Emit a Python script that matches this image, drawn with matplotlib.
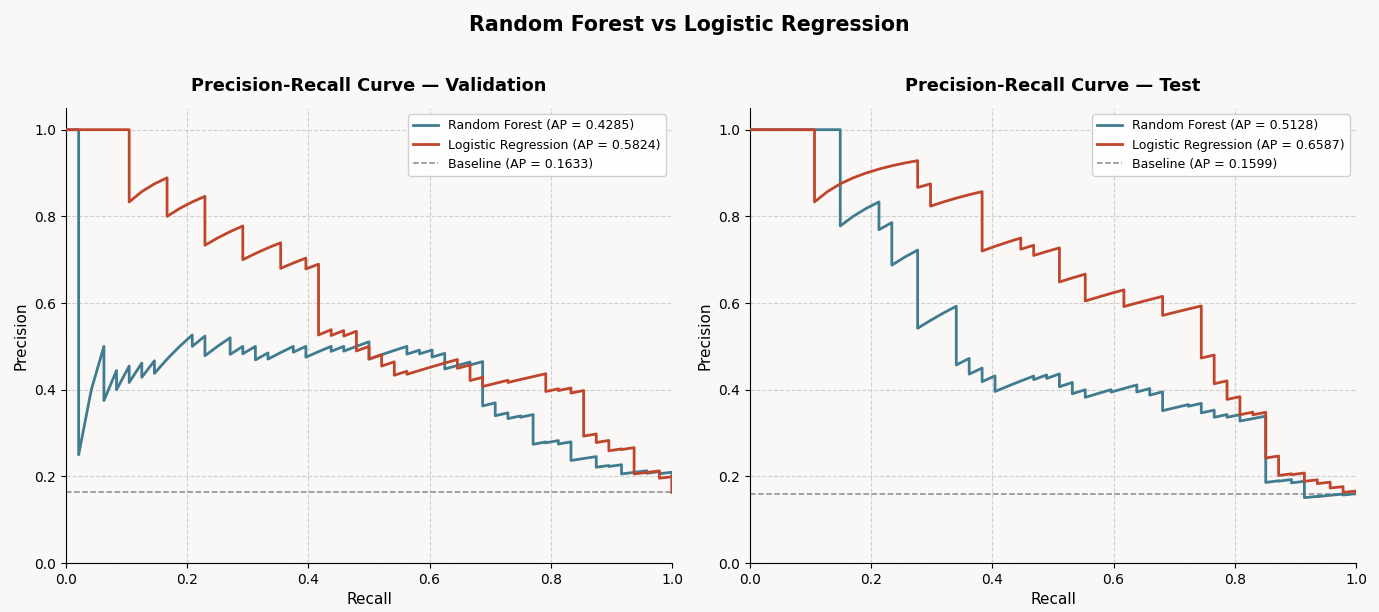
import matplotlib
matplotlib.use("Agg")
import matplotlib.pyplot as plt

# ---------------- data ----------------
val_rf_recall = [0.0, 0.0208, 0.0208, 0.0417, 0.0625, 0.0625, 0.0833, 0.0833, 0.1042, 0.1042,
                 0.125, 0.125, 0.1458, 0.1458, 0.1667, 0.1875, 0.2083, 0.2083, 0.2292, 0.2292,
                 0.25, 0.2708, 0.2708, 0.2917, 0.2917, 0.3125, 0.3125, 0.3333, 0.3333, 0.3542,
                 0.375, 0.375, 0.3958, 0.3958, 0.4167, 0.4375, 0.4375, 0.4583, 0.4583, 0.4792,
                 0.5, 0.5, 0.5208, 0.5417, 0.5625, 0.5625, 0.5833, 0.5833, 0.6042, 0.6042,
                 0.625, 0.625, 0.6458, 0.6667, 0.6667, 0.6875, 0.6875, 0.7083, 0.7083, 0.7292,
                 0.7292, 0.75, 0.75, 0.7708, 0.7708, 0.7917, 0.7917, 0.8125, 0.8125, 0.8333,
                 0.8333, 0.8542, 0.875, 0.875, 0.8958, 0.8958, 0.9167, 0.9167, 0.9375, 0.9583,
                 0.9583, 0.9792, 0.9792, 1.0, 1.0]
val_rf_precision = [1.0, 1.0, 0.25, 0.4, 0.5, 0.375, 0.4444, 0.4, 0.4545, 0.4167,
                    0.4615, 0.4286, 0.4667, 0.4375, 0.4706, 0.5, 0.5263, 0.5, 0.5238, 0.4783,
                    0.5, 0.52, 0.4815, 0.5, 0.4828, 0.5, 0.4688, 0.4848, 0.4706, 0.4857,
                    0.5, 0.4865, 0.5, 0.475, 0.4878, 0.5, 0.4884, 0.5, 0.4889, 0.5,
                    0.5106, 0.4706, 0.4808, 0.4906, 0.5, 0.4821, 0.4912, 0.4828, 0.4915, 0.4754,
                    0.4839, 0.4478, 0.4559, 0.4638, 0.4571, 0.4648, 0.3626, 0.3696, 0.34, 0.3465,
                    0.3333, 0.3396, 0.3364, 0.3426, 0.2741, 0.2794, 0.2774, 0.2826, 0.2746, 0.2797,
                    0.2367, 0.2412, 0.2456, 0.2211, 0.2251, 0.2228, 0.2268, 0.2056, 0.2093, 0.2130,
                    0.2072, 0.2108, 0.2061, 0.2096, 0.1633]

val_lr_recall = [0.0, 0.1042, 0.1042, 0.125, 0.1458, 0.1667, 0.1667, 0.1875, 0.2083, 0.2292,
                 0.2292, 0.25, 0.2708, 0.2917, 0.2917, 0.3125, 0.3333, 0.3542, 0.3542, 0.375,
                 0.3958, 0.3958, 0.4167, 0.4167, 0.4375, 0.4375, 0.4583, 0.4583, 0.4792, 0.4792,
                 0.5, 0.5, 0.5208, 0.5208, 0.5417, 0.5417, 0.5625, 0.5625, 0.5833, 0.6042,
                 0.625, 0.6458, 0.6458, 0.6667, 0.6667, 0.6875, 0.6875, 0.7083, 0.7292, 0.7292,
                 0.75, 0.7708, 0.7917, 0.7917, 0.8125, 0.8125, 0.8333, 0.8333, 0.8542, 0.8542,
                 0.875, 0.875, 0.8958, 0.8958, 0.9167, 0.9167, 0.9375, 0.9375, 0.9583, 0.9792,
                 0.9792, 1.0, 1.0]
val_lr_precision = [1.0, 1.0, 0.8333, 0.8571, 0.875, 0.8889, 0.8, 0.8182, 0.8333, 0.8462,
                    0.7333, 0.75, 0.7647, 0.7778, 0.70, 0.7143, 0.7273, 0.7391, 0.68, 0.6923,
                    0.7037, 0.6786, 0.6897, 0.5263, 0.5385, 0.525, 0.5366, 0.5238, 0.5349, 0.4894,
                    0.5, 0.4706, 0.4808, 0.4545, 0.4643, 0.4333, 0.4426, 0.4355, 0.4444, 0.4531,
                    0.4615, 0.4697, 0.4493, 0.4571, 0.4211, 0.4286, 0.4074, 0.4146, 0.4217, 0.4167,
                    0.4235, 0.4302, 0.4368, 0.3958, 0.4021, 0.3980, 0.4040, 0.3922, 0.3981, 0.2929,
                    0.2979, 0.2781, 0.2829, 0.2590, 0.2635, 0.2619, 0.2663, 0.2055, 0.2091, 0.2127,
                    0.1958, 0.1992, 0.1633]

test_rf_recall = [0.0, 0.1489, 0.1489, 0.1702, 0.1915, 0.2128, 0.2128, 0.2340, 0.2340, 0.2553,
                  0.2766, 0.2766, 0.2979, 0.3191, 0.3404, 0.3404, 0.3617, 0.3617, 0.3830, 0.3830,
                  0.4043, 0.4043, 0.4255, 0.4468, 0.4681, 0.4681, 0.4894, 0.4894, 0.5106, 0.5106,
                  0.5319, 0.5319, 0.5532, 0.5532, 0.5745, 0.5957, 0.5957, 0.6170, 0.6383, 0.6383,
                  0.6596, 0.6596, 0.6809, 0.6809, 0.7021, 0.7234, 0.7234, 0.7447, 0.7447, 0.7660,
                  0.7660, 0.7872, 0.7872, 0.8085, 0.8085, 0.8298, 0.8511, 0.8511, 0.8723, 0.8723,
                  0.8936, 0.8936, 0.9149, 0.9149, 0.9362, 0.9362, 0.9574, 0.9787, 0.9787, 1.0]
test_rf_precision = [1.0, 1.0, 0.7778, 0.8, 0.8182, 0.8333, 0.7692, 0.7857, 0.6875, 0.7059,
                     0.7222, 0.5417, 0.56, 0.5769, 0.5926, 0.4571, 0.4722, 0.4359, 0.45, 0.4186,
                     0.4318, 0.3958, 0.4082, 0.42, 0.4314, 0.4231, 0.4340, 0.4259, 0.4364, 0.4068,
                     0.4167, 0.3906, 0.4, 0.3824, 0.3913, 0.4, 0.3944, 0.4028, 0.4110, 0.3947,
                     0.4026, 0.3875, 0.3951, 0.3516, 0.3587, 0.3656, 0.3617, 0.3684, 0.3465, 0.3529,
                     0.3364, 0.3426, 0.3364, 0.3423, 0.3276, 0.3333, 0.3390, 0.1860, 0.1898, 0.1889,
                     0.1927, 0.1850, 0.1886, 0.1509, 0.1538, 0.1533, 0.1563, 0.1592, 0.1570, 0.1599]

test_lr_recall = [0.0, 0.1064, 0.1064, 0.1277, 0.1489, 0.1702, 0.1915, 0.2128, 0.2340, 0.2553,
                  0.2766, 0.2766, 0.2979, 0.2979, 0.3191, 0.3404, 0.3617, 0.3830, 0.3830, 0.4043,
                  0.4255, 0.4468, 0.4468, 0.4681, 0.4681, 0.4894, 0.5106, 0.5106, 0.5319, 0.5532,
                  0.5532, 0.5745, 0.5957, 0.6170, 0.6170, 0.6383, 0.6596, 0.6809, 0.6809, 0.7021,
                  0.7234, 0.7447, 0.7447, 0.7660, 0.7660, 0.7872, 0.7872, 0.8085, 0.8085, 0.8298,
                  0.8298, 0.8511, 0.8511, 0.8723, 0.8723, 0.8936, 0.8936, 0.9149, 0.9149, 0.9362,
                  0.9362, 0.9574, 0.9574, 0.9787, 0.9787, 1.0, 1.0]
test_lr_precision = [1.0, 1.0, 0.8333, 0.8571, 0.875, 0.8889, 0.9, 0.9091, 0.9167, 0.9231,
                     0.9286, 0.8667, 0.875, 0.8235, 0.8333, 0.8421, 0.85, 0.8571, 0.72, 0.7308,
                     0.7407, 0.75, 0.7241, 0.7333, 0.7097, 0.7188, 0.7273, 0.6486, 0.6579, 0.6667,
                     0.6047, 0.6136, 0.6222, 0.6304, 0.5918, 0.6, 0.6078, 0.6154, 0.5714, 0.5789,
                     0.5862, 0.5932, 0.4730, 0.48, 0.4138, 0.4205, 0.3776, 0.3838, 0.3423, 0.3482,
                     0.3421, 0.3478, 0.2424, 0.2470, 0.2020, 0.2059, 0.2039, 0.2077, 0.1886, 0.1921,
                     0.1833, 0.1867, 0.1731, 0.1762, 0.1631, 0.1661, 0.1599]

panels = ["Validation", "Test"]
ap_rf = [0.4285, 0.5128]
ap_lr = [0.5824, 0.6587]
baseline = [0.1633, 0.1599]
x_ticks = [0.0, 0.2, 0.4, 0.6, 0.8, 1.0]
y_ticks = [0.0, 0.2, 0.4, 0.6, 0.8, 1.0]

rf_color = "#407b8f"
lr_color = "#bf462c"
bg = "#f9f8f6"

curves = [
    (val_rf_recall, val_rf_precision, val_lr_recall, val_lr_precision),
    (test_rf_recall, test_rf_precision, test_lr_recall, test_lr_precision),
]

fig = plt.figure(figsize=(13.79, 6.12), dpi=100, facecolor=bg)
axes = [fig.add_axes([0.0479, 0.080, 0.4394, 0.7435]),
        fig.add_axes([0.5439, 0.080, 0.4394, 0.7435])]

for i, ax in enumerate(axes):
    rr, rp, lr_r, lr_p = curves[i]
    ax.set_facecolor(bg)
    ax.plot(rr, rp, color=rf_color, lw=2, label=f"Random Forest (AP = {ap_rf[i]:.4f})", zorder=3)
    ax.plot(lr_r, lr_p, color=lr_color, lw=2, label=f"Logistic Regression (AP = {ap_lr[i]:.4f})", zorder=4)
    ax.axhline(baseline[i], color="#888888", lw=1.1, ls="--", label=f"Baseline (AP = {baseline[i]:.4f})", zorder=2)
    ax.set_xlim(0, 1)
    ax.set_ylim(0, 1.05)
    ax.set_xticks(x_ticks)
    ax.set_yticks(y_ticks)
    ax.tick_params(labelsize=10)
    ax.grid(True, ls="--", color="#cccccc", lw=0.8, alpha=0.9)
    ax.spines["top"].set_visible(False)
    ax.spines["right"].set_visible(False)
    ax.set_xlabel("Recall", fontsize=11)
    ax.set_ylabel("Precision", fontsize=11)
    ax.set_title(f"Precision-Recall Curve — {panels[i]}", fontsize=12.75, fontweight="bold", pad=12)
    leg = ax.legend(loc="upper right", fontsize=9, frameon=True, framealpha=0.9)
    leg.get_frame().set_edgecolor("#cccccc")

fig.suptitle("Random Forest vs Logistic Regression", fontsize=14.8, fontweight="bold", y=0.975)
fig.savefig("out.png", dpi=100, facecolor=bg)
